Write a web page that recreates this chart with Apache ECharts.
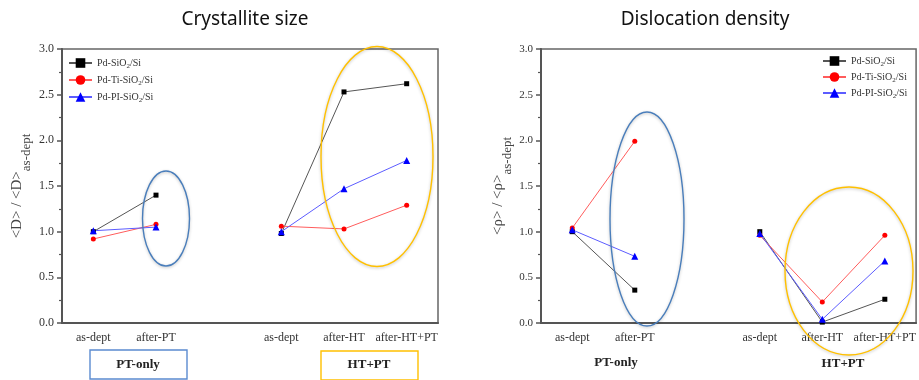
<!DOCTYPE html>
<html><head><meta charset="utf-8">
<script src="https://cdn.jsdelivr.net/npm/echarts@6/dist/echarts.min.js"></script>
<style>html,body{margin:0;padding:0;background:#fff}#c{width:919px;height:380px}</style>
</head><body><div id="c"></div>
<script>
// ---- data ----
const tickLabels = ['as-dept', 'after-PT', '', 'as-dept', 'after-HT', 'after-HT+PT'];
const seriesNames = ['Pd-SiO2/Si', 'Pd-Ti-SiO2/Si', 'Pd-PI-SiO2/Si'];
// Crystallite size <D>/<D>as-dept
const sizeSiO2 = [1.00, 1.40, null, 0.98, 2.53, 2.62];
const sizeTi   = [0.92, 1.08, null, 1.06, 1.03, 1.29];
const sizePI   = [1.01, 1.05, null, 1.00, 1.47, 1.78];
// Dislocation density <rho>/<rho>as-dept
const rhoSiO2 = [1.00, 0.36, null, 1.00, 0.01, 0.26];
const rhoTi   = [1.04, 1.99, null, 0.96, 0.23, 0.96];
const rhoPI   = [1.02, 0.73, null, 0.98, 0.04, 0.68];
const yTicks = [0, 0.5, 1.0, 1.5, 2.0, 2.5, 3.0];

// ---- styles ----
const serif = 'Liberation Serif';
const markerColors = ['#000000', '#ff0000', '#0000ff'];
const lineColors = ['#555555', '#ff5c5c', '#5c5cff'];
const symbols = ['rect', 'circle', 'triangle'];

const chart = echarts.init(document.getElementById('c'), null, {renderer: 'canvas'});

function xAxis(gridIndex) {
  return {
    type: 'category', gridIndex,
    data: tickLabels.map((_, i) => String(i)),
    boundaryGap: true,
    axisLine: {lineStyle: {color: '#555', width: 2}},
    axisTick: {alignWithLabel: true, length: 5, lineStyle: {color: '#555', width: 1.5}},
    axisLabel: {formatter: (v, i) => tickLabels[+v], fontFamily: serif, fontSize: 12, color: '#333', margin: 9, interval: 0},
    splitLine: {show: false}
  };
}
function yAxis(gridIndex, name, fs, gap) {
  return {
    type: 'value', gridIndex, min: yTicks[0], max: yTicks[yTicks.length - 1], interval: 0.5,
    axisLine: {show: true, lineStyle: {color: '#555', width: 2}},
    axisTick: {show: true, length: 5, lineStyle: {color: '#555', width: 1.5}},
    minorTick: {show: true, splitNumber: 2, length: 3, lineStyle: {color: '#555', width: 1.2}},
    axisLabel: {formatter: v => v.toFixed(1), fontFamily: serif, fontSize: fs, color: '#333', margin: 8},
    splitLine: {show: false},
    name: name, nameLocation: 'middle', nameRotate: 90, nameGap: gap,
    nameTextStyle: {
      fontFamily: serif, color: '#444',
      rich: {
        a: {fontFamily: serif, fontSize: 15, lineHeight: 18, verticalAlign: 'top', color: '#444'},
        b: {fontFamily: serif, fontSize: 13, lineHeight: 13, padding: [10, 0, 0, 0], verticalAlign: 'top', color: '#444'}
      }
    }
  };
}
function mkSeries(idx, data, xi) {
  return {
    type: 'line', name: seriesNames[idx], xAxisIndex: xi, yAxisIndex: xi, data: data,
    symbol: symbols[idx], symbolSize: idx === 2 ? 7 : 5, connectNulls: false,
    itemStyle: {color: markerColors[idx]},
    lineStyle: {color: lineColors[idx], width: 1},
    emphasis: {disabled: true}, animation: false
  };
}
function legend(left, top, fs, gap) {
  return {
    left, top, orient: 'vertical', itemWidth: 23, itemHeight: 12, itemGap: gap, padding: 0,
    data: seriesNames,
    formatter: n => '{a|' + n.replace('2', '}{s|2}{a|') + '}',
    textStyle: {
      fontFamily: serif, fontSize: fs, color: '#333',
      rich: {
        a: {fontFamily: serif, fontSize: fs, lineHeight: 14, color: '#333'},
        s: {fontFamily: serif, fontSize: 7, lineHeight: 7, verticalAlign: 'bottom', color: '#333'}
      }
    },
    selectedMode: false
  };
}

const groupText = (x, y, t) => ({type: 'text', x, y, style: {text: t, fontFamily: serif, fontWeight: 'bold', fontSize: 13, fill: '#222', align: 'center', verticalAlign: 'middle'}});
const ell = (cx, cy, rx, ry, c) => ({type: 'ellipse', shape: {cx, cy, rx, ry}, z: 100,
  style: {fill: null, stroke: c, lineWidth: 1.4, shadowBlur: 3, shadowColor: 'rgba(0,0,0,0.25)', shadowOffsetY: 1}});
const box = (x, y, w, h, c) => ({type: 'rect', shape: {x, y, width: w, height: h}, style: {fill: null, stroke: c, lineWidth: 1.4}});

chart.setOption({
  animation: false,
  title: [
    {text: 'Crystallite size', left: 240, top: 5, textAlign: 'center', textStyle: {fontFamily: 'Noto Sans', fontWeight: 'normal', fontSize: 19, color: '#111'}},
    {text: 'Dislocation density', left: 700, top: 5, textAlign: 'center', textStyle: {fontFamily: 'Noto Sans', fontWeight: 'normal', fontSize: 19, color: '#111'}}
  ],
  grid: [
    {left: 62, right: 481, top: 49, bottom: 57, show: true, borderColor: '#666', borderWidth: 1.5, backgroundColor: 'transparent'},
    {left: 541, right: 2, top: 49, bottom: 57, show: true, borderColor: '#666', borderWidth: 1.5, backgroundColor: 'transparent'}
  ],
  xAxis: [xAxis(0), xAxis(1)],
  yAxis: [yAxis(0, '{a|<D> / <D>}{b|as-dept}', 12, 34), yAxis(1, '{a|<ρ> / <ρ>}{b|as-dept}', 11, 32)],
  legend: [legend(68, 58, 10, 5), legend(822, 56, 10, 4)],
  tooltip: {show: false},
  series: [
    mkSeries(0, sizeSiO2, 0), mkSeries(1, sizeTi, 0), mkSeries(2, sizePI, 0),
    mkSeries(0, rhoSiO2, 1), mkSeries(1, rhoTi, 1), mkSeries(2, rhoPI, 1)
  ],
  graphic: [
    ell(166, 218.5, 23.5, 47.5, '#4a7ebb'),
    ell(377, 156.5, 56, 110, '#ffc000'),
    ell(647, 219, 37, 107, '#4a7ebb'),
    ell(849, 271, 64, 84, '#ffc000'),
    box(90, 350, 97, 29, '#5b8bd0'),
    box(321, 351, 97, 29, '#ffc000'),
    groupText(138, 365, 'PT-only'),
    groupText(369, 365, 'HT+PT'),
    groupText(616, 363, 'PT-only'),
    groupText(843, 364, 'HT+PT')
  ]
});
</script></body></html>
